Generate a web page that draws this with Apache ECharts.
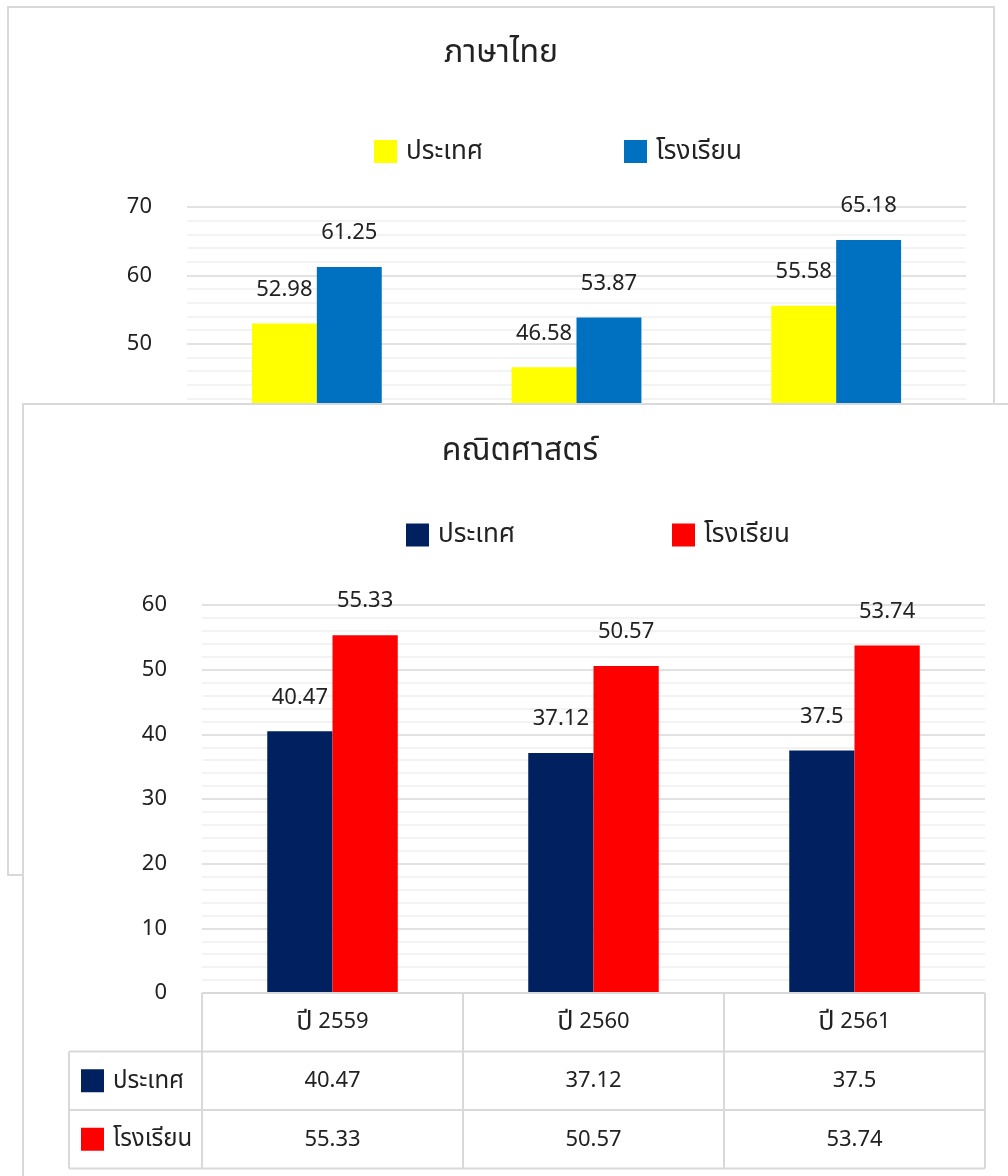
<!DOCTYPE html>
<html><head><meta charset="utf-8">
<script src="https://cdn.jsdelivr.net/npm/echarts@6/dist/echarts.min.js"></script>
<style>
html,body{margin:0;padding:0;background:#fff;width:1008px;height:1176px;overflow:hidden;position:relative}
.frame{position:absolute;border:2px solid #d9d9d9;box-sizing:border-box;background:#fff}
#c1{left:7px;top:6px;width:988px;height:870px;z-index:1}
#c2{left:22px;top:403px;width:996px;height:782px;z-index:2}
.chart{width:100%;height:100%}
</style></head><body>
<div id="c1" class="frame"><div id="chart1" class="chart"></div></div>
<div id="c2" class="frame"><div id="chart2" class="chart"></div></div>
<script>
// ---- data ----
const categories = ['ปี 2559', 'ปี 2560', 'ปี 2561'];
const seriesNames = ['ประเทศ', 'โรงเรียน'];
const thaiTitle = 'ภาษาไทย';
const thaiCountry = [52.98, 46.58, 55.58];
const thaiSchool = [61.25, 53.87, 65.18];
const mathTitle = 'คณิตศาสตร์';
const mathCountry = [40.47, 37.12, 37.5];
const mathSchool = [55.33, 50.57, 53.74];
const thaiAxis = [0, 70, 10];   // min, max, interval
const mathAxis = [0, 60, 10];

const FONT = '"Noto Sans", "Noto Sans Thai", Tahoma, sans-serif';
const TXT = '#222222';
const NUM = 22, THAI = 26, THAI_TABLE = 24;

function build(el, cfg) {
  const chart = echarts.init(el, null, {renderer: 'canvas'});
  const legendItem = (name, left) => ({
    data: [name], left: left, top: cfg.legendTop, icon: 'rect', padding: 0,
    itemWidth: 23, itemHeight: 23, selectedMode: false,
    textStyle: {fontFamily: FONT, fontSize: THAI, color: TXT, lineHeight: 23, padding: [0, 0, 0, 4]}
  });
  const mkSeries = (name, data, color) => ({
    type: 'bar', name: name, data: data,
    barGap: '0%', barCategoryGap: '50%',
    itemStyle: {color: color},
    label: {show: true, position: 'top', distance: 23, fontFamily: FONT, fontSize: NUM, color: TXT},
    emphasis: {disabled: true}
  });
  chart.setOption({
    animation: false,
    title: {text: cfg.title, left: 'center', top: cfg.titleTop, padding: 0,
      textStyle: {fontFamily: FONT, fontSize: 32, fontWeight: 'normal', color: TXT, lineHeight: 40}},
    legend: [legendItem(seriesNames[0], cfg.legendLeft[0]), legendItem(seriesNames[1], cfg.legendLeft[1])],
    grid: {left: cfg.grid[0], top: cfg.grid[1], width: cfg.grid[2], height: cfg.grid[3], containLabel: false},
    xAxis: {type: 'category', data: categories,
      axisLine: {show: false}, axisTick: {show: false},
      axisLabel: {show: true, margin: 29, verticalAlign: 'middle', fontFamily: FONT, fontSize: NUM, color: TXT,
        formatter: v => v.replace(/([\u0E00-\u0E7F]+)/g, '{t|$1}'),
        rich: {t: {fontFamily: FONT, fontSize: THAI + 1, color: TXT}}}},
    yAxis: {type: 'value', min: cfg.axis[0], max: cfg.axis[1], interval: cfg.axis[2],
      axisLine: {show: false}, axisTick: {show: false},
      axisLabel: {margin: 35, fontFamily: FONT, fontSize: NUM, color: TXT},
      splitLine: {lineStyle: {color: '#d9d9d9', width: 1.5}},
      minorTick: {show: false, splitNumber: 5},
      minorSplitLine: {show: true, lineStyle: {color: '#f0f0f0', width: 1.5}}},
    series: [mkSeries(seriesNames[0], cfg.s1, cfg.colors[0]), mkSeries(seriesNames[1], cfg.s2, cfg.colors[1])]
  });

  // data table below the plot
  const rh = 58.5, leftCol = 133, lc = '#d9d9d9';
  const y0 = chart.convertToPixel({yAxisIndex: 0}, 0);
  const cx = categories.map(c => chart.convertToPixel({xAxisIndex: 0}, c));
  const bw = cx[1] - cx[0];
  const pl = cx[0] - bw / 2, pr = cx[cx.length - 1] + bw / 2, tl = pl - leftCol;
  const g = [];
  const line = (x1, y1, x2, y2) => g.push({type: 'line', z: 10, shape: {x1, y1, x2, y2}, style: {stroke: lc, lineWidth: 2}});
  line(pl, y0, pr, y0);
  for (let r = 1; r <= 3; r++) line(tl, y0 + r * rh, pr, y0 + r * rh);
  line(tl, y0 + rh, tl, y0 + 3 * rh);
  line(pl, y0, pl, y0 + 3 * rh);
  cx.forEach(x => line(x + bw / 2, y0, x + bw / 2, y0 + 3 * rh));
  const rows = [cfg.s1, cfg.s2];
  rows.forEach((vals, r) => {
    const yc = y0 + (r + 1.5) * rh;
    g.push({type: 'rect', z: 10, shape: {x: tl + 12, y: yc - 11.5, width: 23, height: 23}, style: {fill: cfg.colors[r]}});
    g.push({type: 'text', z: 10, x: tl + 44, y: yc, style: {text: seriesNames[r], fill: TXT, font: THAI_TABLE + 'px ' + FONT, textAlign: 'left', textVerticalAlign: 'middle'}});
    vals.forEach((v, i) => g.push({type: 'text', z: 10, x: cx[i], y: yc,
      style: {text: String(v), fill: TXT, font: NUM + 'px ' + FONT, textAlign: 'center', textVerticalAlign: 'middle'}}));
  });
  chart.setOption({graphic: g});
  return chart;
}

build(document.getElementById('chart1'), {
  title: thaiTitle, titleTop: 25, legendTop: 130.5, legendLeft: [365, 615],
  grid: [178, 199, 779, 479], axis: thaiAxis, s1: thaiCountry, s2: thaiSchool,
  colors: ['#FFFF00', '#0070C0']
});
build(document.getElementById('chart2'), {
  title: mathTitle, titleTop: 26, legendTop: 117, legendLeft: [382, 648],
  grid: [178, 200, 783, 388], axis: mathAxis, s1: mathCountry, s2: mathSchool,
  colors: ['#002060', '#FF0000']
});
</script>
</body></html>
